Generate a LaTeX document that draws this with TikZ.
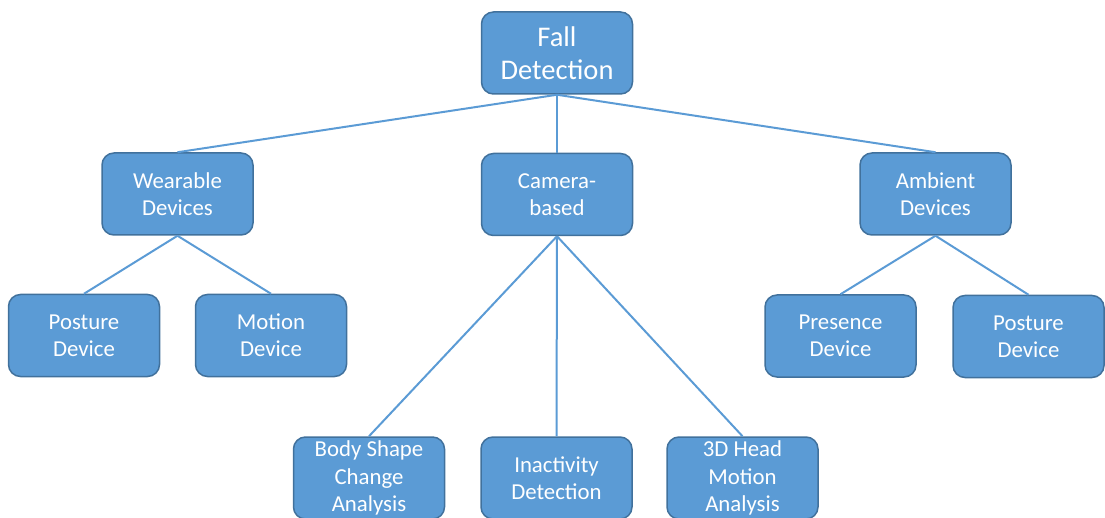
\documentclass[tikz,border=0pt]{standalone}
\usepackage{fontspec}
\setmainfont{Carlito}
\definecolor{boxfill}{HTML}{5B9BD5}
\definecolor{boxline}{HTML}{41719C}
\begin{document}
\begin{tikzpicture}[x=1pt,y=-1pt,
  box/.style={draw=boxline, line width=1.5pt, fill=boxfill, rounded corners=12pt,
    minimum width=151pt, minimum height=82pt, inner sep=0pt,
    text=white, align=center, font=\fontsize{22.8}{27.2}\selectfont},
  rootbox/.style={box, font=\fontsize{28.5}{33}\selectfont},
  link/.style={draw=boxfill, line width=2pt}]
\useasboundingbox (0,0) rectangle (1105,518);

% top level
\node[rootbox] (fall) at (557,53) {Fall\\Detection};

% categories
\node[box] (wear) at (177.5,194) {Wearable\\Devices};
\node[box] (cam)  at (557,194.5) {Camera-\\based};
\node[box] (amb)  at (935.5,194) {Ambient\\Devices};

% wearable devices
\node[box] (post1) at (84,335.5) {Posture\\Device};
\node[box] (mot)   at (271,335.5) {Motion\\Device};

% camera-based methods
\node[box] (body)  at (369,478) {Body Shape\\Change\\Analysis};
\node[box] (inact) at (556.5,478) {Inactivity\\Detection};
\node[box] (head)  at (742.5,478) {3D Head\\Motion\\Analysis};

% ambient devices
\node[box] (pres)  at (840.5,336) {Presence\\Device};
\node[box] (post2) at (1028.5,336.5) {Posture\\Device};

% connectors
\draw[link] (fall.south) -- (wear.north);
\draw[link] (fall.south) -- (cam.north);
\draw[link] (fall.south) -- (amb.north);
\draw[link] (wear.south) -- (post1.north);
\draw[link] (wear.south) -- (mot.north);
\draw[link] (cam.south) -- (body.north);
\draw[link] (cam.south) -- (inact.north);
\draw[link] (cam.south) -- (head.north);
\draw[link] (amb.south) -- (pres.north);
\draw[link] (amb.south) -- (post2.north);
\end{tikzpicture}
\end{document}
